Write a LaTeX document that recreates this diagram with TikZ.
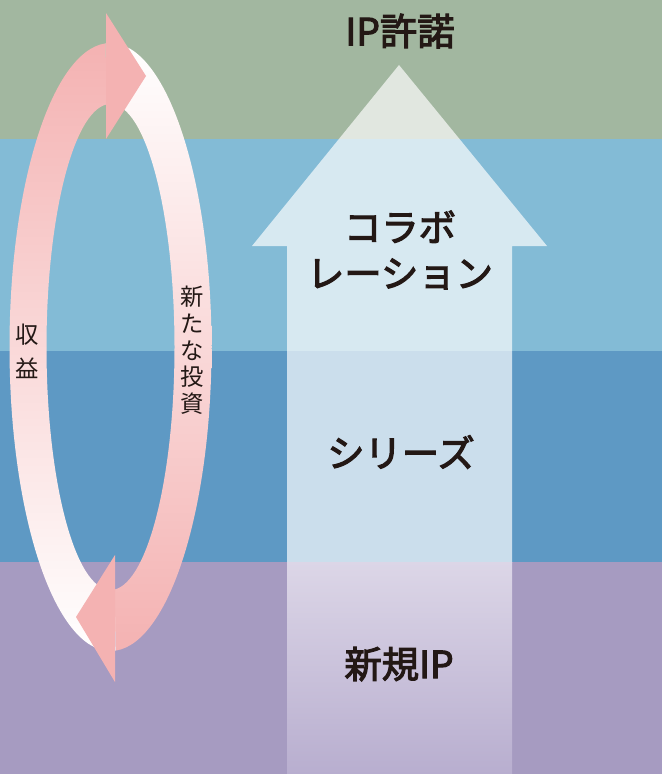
\documentclass[tikz,border=0pt]{standalone}
\usepackage{fontspec}
\newfontfamily\jpfont{Noto Sans CJK JP}
\newfontfamily\jpmedium[FakeBold=3]{Noto Sans CJK JP}
\definecolor{bggreen}{HTML}{A2B7A0}
\definecolor{bglblue}{HTML}{83BBD6}
\definecolor{bgblue}{HTML}{5E99C4}
\definecolor{bgpurple}{HTML}{A69BC1}
\definecolor{ringpink}{HTML}{F4B2B2}
\definecolor{arrowtop}{HTML}{DCD6E7}
\definecolor{arrowbot}{HTML}{B8AECF}
\definecolor{ink}{HTML}{231815}
\tikzset{
  biglabel/.style={font={\jpmedium\fontsize{28}{34.5}\selectfont}, text=ink, align=center, inner sep=0pt},
  smalllabel/.style={font={\jpfont\fontsize{17.5}{20}\selectfont}, text=ink, align=center, inner sep=0pt},
}
\begin{document}
\begin{tikzpicture}[x=0.75pt,y=-0.75pt]
\useasboundingbox (0,0) rectangle (662,774);
% background bands
\fill[bggreen] (0,0) rectangle (662,139);
\fill[bglblue] (0,139) rectangle (662,351);
\fill[bgblue] (0,351) rectangle (662,562);
\fill[bgpurple] (0,562) rectangle (662,774);
% big upward arrow
\begin{scope}
\clip (0,0) rectangle (662,562);
\fill[white, fill opacity=0.68] (287,774) -- (287,246) -- (252,246) -- (399,65) -- (547,246) -- (512,246) -- (512,774) -- cycle;
\end{scope}
\shade[top color=arrowtop, bottom color=arrowbot] (287,562) rectangle (512,774);
% cycle: right half (new investment), white at top to pink at bottom
\begin{scope}
\clip (104.8,0) -- (117.6,774) -- (662,774) -- (662,0) -- cycle;
\shade[top color=white, bottom color=ringpink, even odd rule]
  (110.5,347) ellipse [x radius=101, y radius=304]
  (110.5,347) ellipse [x radius=64, y radius=243];
\end{scope}
% cycle: left half (revenue), white at bottom to pink at top
\begin{scope}
\clip (104.8,0) -- (117.6,774) -- (0,774) -- (0,0) -- cycle;
\shade[top color=ringpink, bottom color=white, even odd rule]
  (110.5,347) ellipse [x radius=101, y radius=304]
  (110.5,347) ellipse [x radius=64, y radius=243];
\end{scope}
% arrowheads
\fill[ringpink] (106,13) -- (146,76) -- (106,139) -- cycle;
\fill[ringpink] (115,555) -- (76,617) -- (115,682) -- cycle;
% labels
\node[biglabel] (license) at (400,31) {IP許諾};
\node[biglabel] (collab) at (400,250) {コラボ\\レーション};
\node[biglabel] (series) at (401,452) {シリーズ};
\node[biglabel] (newip) at (399,664) {新規IP};
\node[smalllabel, font={\jpfont\fontsize{17.5}{25.5}\selectfont}] (revenue) at (27,351) {収\\益};
\node[smalllabel] (invest) at (192,350.5) {新\\た\\な\\投\\資};
\end{tikzpicture}
\end{document}
